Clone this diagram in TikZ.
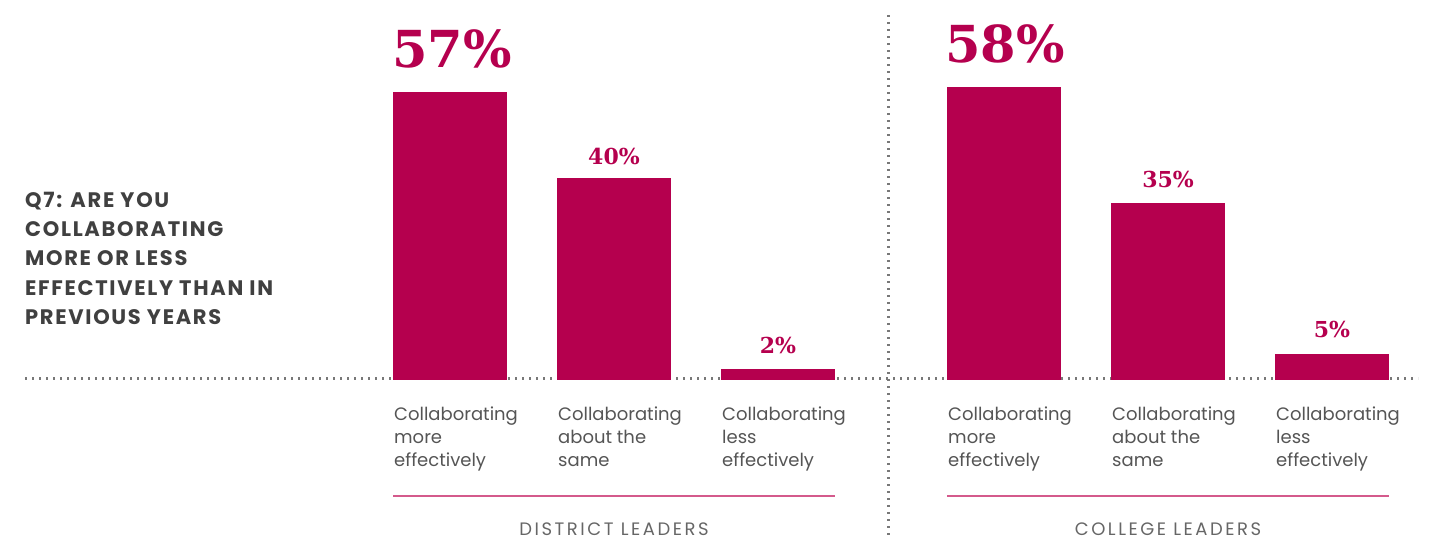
\documentclass[tikz,border=0pt]{standalone}
\usepackage{fontspec}
\setmainfont{Poppins}
\newfontfamily\pctfont{DejaVu Serif}
\newfontfamily\groupfont[LetterSpace=14]{Poppins}
\newfontfamily\questfont[LetterSpace=8]{Poppins}
\definecolor{barred}{RGB}{181,0,78}
\definecolor{rulepink}{RGB}{212,90,140}
\definecolor{darktext}{RGB}{64,64,64}
\definecolor{cattext}{RGB}{85,85,85}
\definecolor{grouptext}{RGB}{102,102,102}
\definecolor{dotgray}{RGB}{120,120,120}

\tikzset{
    bar/.style={fill=barred, draw=none},
    dotline/.style={dotgray, line width=2.2pt, dash pattern=on 2.2pt off 4.8pt},
    pinkrule/.style={rulepink, line width=1.6pt},
    bigpct/.style={anchor=base, inner sep=0, text=barred, font=\pctfont\bfseries\fontsize{51}{51}\selectfont},
    smallpct/.style={anchor=base, inner sep=0, text=barred, font=\pctfont\bfseries\fontsize{22}{22}\selectfont},
    catlabel/.style={anchor=base west, inner sep=0, align=left, text=cattext, font=\fontsize{18}{23}\selectfont},
    grouplabel/.style={anchor=base, inner sep=0, text=grouptext, font=\groupfont\fontsize{18}{20}\selectfont},
}

\begin{document}
\begin{tikzpicture}[x=1pt, y=-1pt]
    \useasboundingbox (0, 0) rectangle (1432, 539);

    \coordinate (baseL) at (25, 378.5);
    \coordinate (baseR) at (1418, 378.5);
    \coordinate (sepT) at (888.5, 15);
    \coordinate (sepB) at (888.5, 539);
    \draw [dotline] (baseL) -- (baseR);
    \draw [dotline] (sepT) -- (sepB);

    \node [anchor=base west, inner sep=0, align=left, text=darktext, font=\questfont\bfseries\fontsize{21}{29.3}\selectfont] (question) at (25, 324.5)
        {Q7: ARE YOU\\COLLABORATING\\MORE OR LESS\\EFFECTIVELY THAN IN\\PREVIOUS YEARS};

    \draw [bar] (393, 92) rectangle (507, 380);
    \draw [bar] (557, 178) rectangle (671, 380);
    \draw [bar] (721, 369) rectangle (835, 380);

    \draw [bar] (947, 87) rectangle (1061, 380);
    \draw [bar] (1111, 203) rectangle (1225, 380);
    \draw [bar] (1275, 354) rectangle (1389, 380);

    \node [bigpct] (dmore) at (452, 67) {57\%};
    \node [smallpct] (dsame) at (614, 164) {40\%};
    \node [smallpct] (dless) at (778, 353) {2\%};
    \node [bigpct] (cmore) at (1005, 62) {58\%};
    \node [smallpct] (csame) at (1168, 187) {35\%};
    \node [smallpct] (cless) at (1332, 337) {5\%};

    \node [catlabel] (dmorecat) at (394, 466) {Collaborating\\more\\effectively};
    \node [catlabel] (dsamecat) at (558, 466) {Collaborating\\about the\\same};
    \node [catlabel] (dlesscat) at (722, 466) {Collaborating\\less\\effectively};
    \node [catlabel] (cmorecat) at (948, 466) {Collaborating\\more\\effectively};
    \node [catlabel] (csamecat) at (1112, 466) {Collaborating\\about the\\same};
    \node [catlabel] (clesscat) at (1276, 466) {Collaborating\\less\\effectively};

    \coordinate (druleL) at (393, 496);
    \coordinate (druleR) at (835, 496);
    \coordinate (cruleL) at (947, 496);
    \coordinate (cruleR) at (1389, 496);
    \draw [pinkrule] (druleL) -- (druleR);
    \draw [pinkrule] (cruleL) -- (cruleR);

    \node [grouplabel] (district) at (614, 535) {DISTRICT LEADERS};
    \node [grouplabel] (college) at (1168, 535) {COLLEGE LEADERS};
\end{tikzpicture}
\end{document}
